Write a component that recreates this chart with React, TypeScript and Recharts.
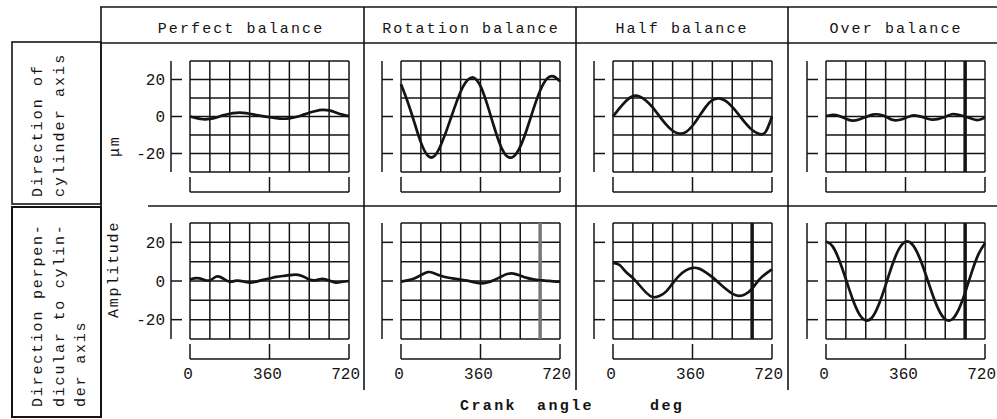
import React from "react";
import { LineChart, Line, XAxis, YAxis, ReferenceLine } from "recharts";

// crank angle samples (deg), one value per sample in each trace below
const ANGLES = [0, 30, 60, 90, 120, 150, 180, 210, 240, 270, 300, 330, 360, 390, 420, 450, 480, 510, 540, 570, 600, 630, 660, 690, 720];

const GRID_X = [0, 90, 180, 270, 360, 450, 540, 630, 720];
const GRID_Y = [-30, -20, -10, 0, 10, 20, 30];
const X_TICKS = [0, 360, 720];
const Y_TICKS = [-20, 0, 20];

const COLUMN_TITLES = ["Perfect balance", "Rotation balance", "Half balance", "Over balance"];
const ROW_1_TITLE = ["Direction of", "cylinder axis"];
const ROW_2_TITLE = ["Direction perpen-", "dicular to cylin-", "der axis"];

// amplitude (um), direction of cylinder axis
const PERFECT_CYL = [0, -0.9, -1.5, -1.3, -0.5, 0.6, 1.5, 2.0, 2.0, 1.5, 0.8, 0.2, -0.4, -0.9, -1.2, -1.0, -0.3, 0.8, 2.0, 3.0, 3.6, 3.3, 2.2, 1.0, 0.2];
const ROTATION_CYL = [17.5, 8, -3, -14, -21, -21.5, -15.5, -6.3, 4, 13.4, 19.5, 21, 16.4, 6.7, -5, -15.5, -21.5, -21.6, -16.3, -6.9, 4.1, 13.9, 20.3, 21.7, 19];
const HALF_CYL = [0, 4.5, 8.5, 11, 10.8, 8.5, 4.8, 0.2, -4.3, -7.7, -9.2, -8.4, -5, 0, 5.2, 8.8, 9.8, 8.4, 5.2, 0.9, -3.6, -7.3, -9.3, -8.5, 0];
const OVER_CYL = [0.2, 0.9, 0.3, -1.2, -2.2, -1.6, -0.3, 1, 1.1, 0, -1.8, -1.9, -0.8, 0.5, 0.2, -0.8, -1.7, -1.3, -0.2, 1.2, 0.9, 0, -1.2, -1.9, -0.6];

// amplitude (um), direction perpendicular to cylinder axis
const PERFECT_PERP = [0.8, 1.5, 0.8, 0.3, 2.3, 1.3, -0.4, 0.2, -0.2, -0.8, -0.3, 0.6, 1.3, 2.1, 2.6, 3.0, 3.3, 2.5, 0.8, 0.4, 1.1, 0.2, -0.8, -0.4, 0];
const ROTATION_PERP = [-0.3, 0.3, 1.3, 3, 4.6, 4, 2.7, 1.8, 1.2, 0.7, 0.2, -0.6, -1.2, -0.8, 0.4, 2, 3.6, 3.8, 2.8, 1.6, 0.8, 0.4, 0.1, -0.2, -0.4];
const HALF_PERP = [9.4, 8.3, 4.5, 1.6, -2.2, -6, -8.3, -7.8, -5.5, -1.2, 2.8, 5.5, 6.8, 6.4, 4.5, 2, -1, -4, -6.5, -7.7, -6.8, -4, 0.5, 3.6, 6];
const OVER_PERP = [20.5, 17.9, 10.7, 0.9, -9.2, -17, -20.4, -18.7, -11.9, -2.1, 8.3, 16.5, 20.3, 19, 13, 3.9, -6.2, -14.8, -19.8, -19.9, -14.9, -6, 4.6, 13.8, 19.5];

const PANELS = [
  [PERFECT_CYL, ROTATION_CYL, HALF_CYL, OVER_CYL],
  [PERFECT_PERP, ROTATION_PERP, HALF_PERP, OVER_PERP],
];

const INK = "#141414";
const FONT = "'Liberation Mono', 'DejaVu Sans Mono', monospace";

// scan artefact: a heavier grid line at 630 deg on some oscillograms ("" = none)
const HEAVY_LINE = [
  ["", "", "", INK],
  ["", "#777", INK, INK],
];

// layout (px)
const COL_LEFT = [190, 401, 613, 826];
const HEADER_CENTER = [241, 471, 682, 896];
const ROW_TOP = [61, 223];
const ROW_GRID_H = [111, 116];
const GRID_W = 159;
const AXIS_GAP = 19;
const BRACKET_GAP = 20;
const YW = 40;
const XH = 32;
const MT = 4;
const MR = 26;

function BracketTick(props: any) {
  const { x, y, payload, showLabel } = props;
  const last = payload.value === 720;
  return (
    <g>
      <line x1={x} y1={y} x2={x} y2={y - 15} stroke={INK} strokeWidth={1.5} />
      {showLabel && (
        <text
          x={last ? x + 11 : x - 2}
          y={y + 20}
          textAnchor={last ? "end" : "middle"}
          fontFamily={FONT}
          fontSize={16}
          fill={INK}
        >
          {payload.value}
        </text>
      )}
    </g>
  );
}

function ScaleTick(props: any) {
  const { x, y, payload, showLabel } = props;
  return (
    <g>
      <line x1={x} y1={y} x2={x + 11} y2={y} stroke={INK} strokeWidth={1.5} />
      {showLabel && (
        <text x={x - 6} y={y} dy="0.36em" textAnchor="end" fontFamily={FONT} fontSize={16} fill={INK}>
          {payload.value}
        </text>
      )}
    </g>
  );
}

function Panel({ values, row, col }: { values: number[]; row: number; col: number }) {
  const gridH = ROW_GRID_H[row];
  const xMin = (-720 * AXIS_GAP) / GRID_W;
  const yMin = -30 - (60 * BRACKET_GAP) / gridH;
  const data = ANGLES.map((a, i) => ({ angle: a, v: values[i] }));
  const width = YW + AXIS_GAP + GRID_W + MR;
  const height = MT + gridH + BRACKET_GAP + XH;
  const heavy = HEAVY_LINE[row][col];

  return (
    <div style={{ position: "absolute", left: COL_LEFT[col] - AXIS_GAP - YW, top: ROW_TOP[row] - MT }}>
      <LineChart width={width} height={height} data={data} margin={{ top: MT, right: MR, bottom: 0, left: 0 }}>
        <XAxis
          dataKey="angle"
          type="number"
          domain={[xMin, 720]}
          ticks={X_TICKS}
          interval={0}
          axisLine={false}
          tickLine={false}
          tickSize={0}
          tickMargin={0}
          height={XH}
          tick={(p: any) => <BracketTick {...p} showLabel={row === 1} />}
        />
        <YAxis
          type="number"
          domain={[yMin, 30]}
          ticks={Y_TICKS}
          interval={0}
          width={YW}
          axisLine={false}
          tickLine={false}
          tickSize={0}
          tickMargin={0}
          tick={(p: any) => <ScaleTick {...p} showLabel={col === 0} />}
        />
        {GRID_Y.map((y) => (
          <ReferenceLine key={"h" + y} ifOverflow="visible" segment={[{ x: 0, y }, { x: 720, y }]} stroke={INK} strokeWidth={1.5} />
        ))}
        {GRID_X.map((x) => (
          <ReferenceLine
            key={"v" + x}
            ifOverflow="visible"
            segment={[{ x, y: -30 }, { x, y: 30 }]}
            stroke={heavy && x === 630 ? heavy : INK}
            strokeWidth={heavy && x === 630 ? 3.5 : 1.5}
          />
        ))}
        {/* detached amplitude scale line */}
        <ReferenceLine ifOverflow="visible" segment={[{ x: xMin, y: -30 }, { x: xMin, y: 30 }]} stroke={INK} strokeWidth={1.5} />
        {/* crank angle bracket */}
        <ReferenceLine ifOverflow="visible" segment={[{ x: 0, y: yMin }, { x: 720, y: yMin }]} stroke={INK} strokeWidth={1.5} />
        <Line type="natural" dataKey="v" stroke={INK} strokeWidth={2.7} dot={false} isAnimationActive={false} />
      </LineChart>
    </div>
  );
}

function Rotated({ x, y, text, size = 14, spacing = 2.6 }: { x: number; y: number; text: string; size?: number; spacing?: number }) {
  return (
    <text
      transform={`translate(${x} ${y}) rotate(-90)`}
      fontFamily={FONT}
      fontSize={size}
      letterSpacing={spacing}
      fill={INK}
    >
      {text}
    </text>
  );
}

export default function App() {
  return (
    <div style={{ position: "absolute", left: 0, top: 0, width: 997, height: 419, background: "#fff", overflow: "hidden" }}>
      <svg width={997} height={419} style={{ position: "absolute", left: 0, top: 0 }}>
        <g stroke={INK} strokeWidth={1.6} fill="none">
          <line x1={100} y1={7} x2={997} y2={7} />
          <line x1={101} y1={43} x2={997} y2={43} />
          <line x1={101} y1={7} x2={101} y2={417} />
          {[364, 576, 788].map((x) => (
            <line key={x} x1={x} y1={7} x2={x} y2={390} />
          ))}
          <line x1={148} y1={206} x2={997} y2={206} />
          <rect x={12} y={42} width={89} height={162} />
          <rect x={12} y={207} width={89} height={210} strokeWidth={2} />
        </g>
        {COLUMN_TITLES.map((t, i) => (
          <text key={t} x={HEADER_CENTER[i]} y={33} textAnchor="middle" fontFamily={FONT} fontSize={15} letterSpacing={2.1} fill={INK}>
            {t}
          </text>
        ))}
        {ROW_1_TITLE.map((t, i) => (
          <Rotated key={t} x={42 + i * 22} y={197} text={t} size={15} spacing={2.1} />
        ))}
        {ROW_2_TITLE.map((t, i) => (
          <Rotated key={t} x={42 + i * 21.5} y={407} text={t} size={15} spacing={1.8} />
        ))}
        <Rotated x={118} y={318} text="Amplitude" size={15} spacing={1.8} />
        <Rotated x={119} y={157} text="μm" size={15} spacing={1.8} />
        <g fontFamily={FONT} fontSize={15} fontWeight="bold" letterSpacing={2.4} fill={INK}>
          <text x={460} y={410}>Crank</text>
          <text x={537} y={410}>angle</text>
          <text x={650} y={410}>deg</text>
        </g>
      </svg>
      {PANELS.map((rowPanels, r) =>
        rowPanels.map((values, c) => <Panel key={`${r}-${c}`} values={values} row={r} col={c} />)
      )}
    </div>
  );
}
